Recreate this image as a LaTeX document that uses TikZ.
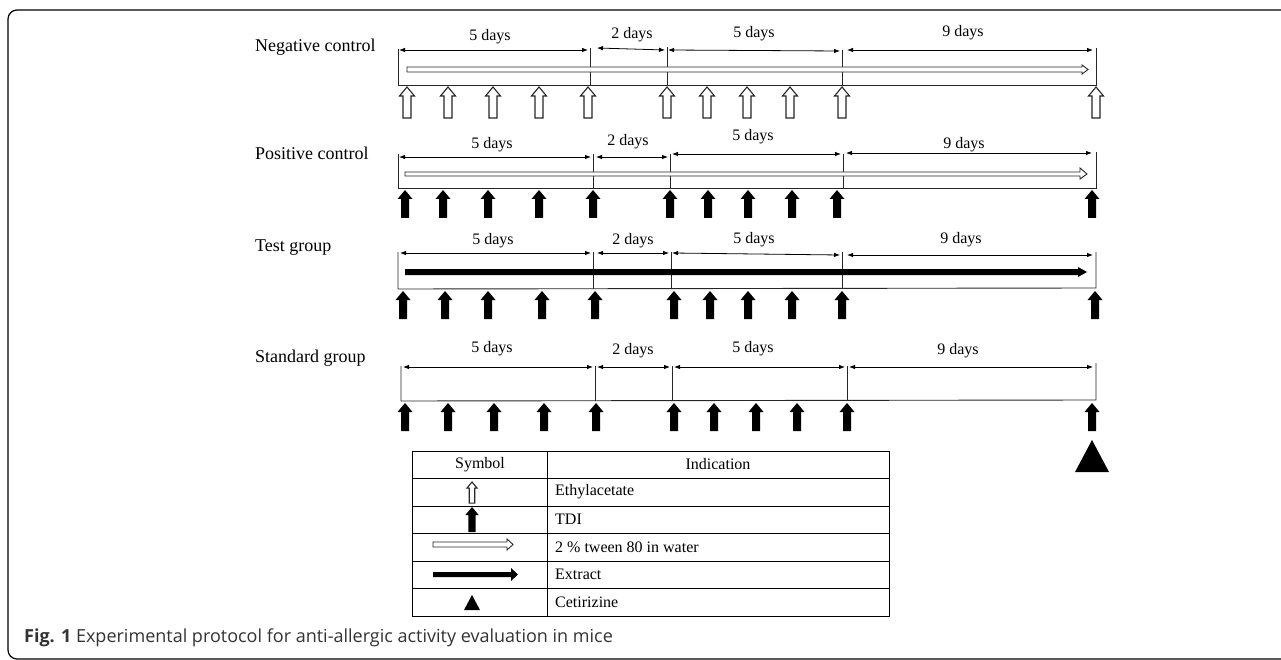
\documentclass[tikz,border=0pt]{standalone}
\usepackage{fontspec}
\setmainfont{Liberation Serif}
\newfontfamily\capfont{Open Sans}
\usetikzlibrary{arrows.meta}
\tikzset{
  tl/.style={line width=0.9pt, draw=black!85},
  dim/.style={{Latex[length=6pt,width=4.5pt]}-{Latex[length=6pt,width=4.5pt]}, line width=0.8pt},
  lab/.style={font=\fontsize{16}{18}\selectfont, inner sep=0pt},
  grp/.style={font=\fontsize{18}{21}\selectfont, anchor=west, inner sep=0pt},
  tbl/.style={line width=0.9pt},
  cell/.style={font=\fontsize{16}{18}\selectfont, inner sep=0pt},
  hollowarrow/.style={draw=black!85, fill=white, line width=1.1pt, line join=miter},
  hup/.pic={\draw[hollowarrow] (0,0) -- (7.5,9) -- (4,9) -- (4,31) -- (-4,31) -- (-4,9) -- (-7.5,9) -- cycle;},
  bup/.pic={\fill (0,0) -- (7.5,9) -- (4,9) -- (4,28) -- (-4,28) -- (-4,9) -- (-7.5,9) -- cycle;}
}
\begin{document}
\begin{tikzpicture}[x=1pt,y=-1pt]
\useasboundingbox (0,0) rectangle (1281,660);
% frame
\draw[line width=1.2pt, rounded corners=9pt] (1290,10) -- (8,10) -- (8,659) -- (1290,659);

% ---------- Row 1: Negative control ----------
\node[grp] (g1) at (255,47) {Negative control};
\coordinate (a0t) at (398,49); \coordinate (a0b) at (398,85);
\coordinate (a1t) at (590,48); \coordinate (a1b) at (590,85);
\coordinate (a2t) at (667,47); \coordinate (a2b) at (667,85);
\coordinate (a3t) at (842,50); \coordinate (a3b) at (842,85);
\coordinate (a4t) at (1096,48); \coordinate (a4b) at (1096,85);
\draw[tl] (a0t) -- (a0b) -- (a4b) -- (a4t);
\draw[tl] (a1t) -- (a1b); \draw[tl] (a2t) -- (a2b); \draw[tl] (a3t) -- (a3b);
\draw[dim] (399,50) -- (588,50);
\draw[dim] (597,48) -- (665,50);
\draw[dim] (668,50) -- (840,51);
\draw[dim] (847,50) -- (1093,50);
\node[lab] (a1l) at (490,37) {5 days};
\node[lab] (a2l) at (632,35) {2 days};
\node[lab] (a3l) at (754,34) {5 days};
\node[lab] (a4l) at (963,33) {9 days};
\draw[hollowarrow, line width=0.9pt] (407,67) -- (1082,67) -- (1082,65) -- (1088,69.5) -- (1082,74) -- (1082,72) -- (407,72) -- cycle;
\foreach \x in {407,448,493,539,588,667,707,747,790,842,1096} \pic at (\x,87) {hup};

% ---------- Row 2: Positive control ----------
\node[grp] (g2) at (255,153) {Positive control};
\coordinate (b0t) at (398,154); \coordinate (b0b) at (398,188);
\coordinate (b1t) at (593,154); \coordinate (b1b) at (593,188);
\coordinate (b2t) at (670,154); \coordinate (b2b) at (670,188);
\coordinate (b3t) at (843,154); \coordinate (b3b) at (843,188);
\coordinate (b4t) at (1096,152); \coordinate (b4b) at (1096,188);
\draw[tl] (b0t) -- (b0b) -- (b4b) -- (b4t);
\draw[tl] (b1t) -- (b1b); \draw[tl] (b2t) -- (b2b); \draw[tl] (b3t) -- (b3b);
\draw[dim] (399,157) -- (591,157);
\draw[dim] (596,157) -- (668,157);
\draw[dim] (672,154) -- (841,154);
\draw[dim] (846,153) -- (1092,153);
\node[lab] (b1l) at (492,145) {5 days};
\node[lab] (b2l) at (628,142) {2 days};
\node[lab] (b3l) at (753,137) {5 days};
\node[lab] (b4l) at (964,145) {9 days};
\draw[hollowarrow, line width=0.9pt] (405,172) -- (1080,172) -- (1080,168) -- (1087,174) -- (1080,179) -- (1080,176) -- (405,176) -- cycle;
\foreach \x in {405,443,488,539,593,670,708,748,792,837,1092} \pic at (\x,190) {bup};

% ---------- Row 3: Test group ----------
\node[grp] (g3) at (255,248) {Test group};
\coordinate (c0t) at (398,252); \coordinate (c0b) at (398,289);
\coordinate (c1t) at (593,252); \coordinate (c1b) at (593,289);
\coordinate (c2t) at (671,252); \coordinate (c2b) at (671,289);
\coordinate (c3t) at (842,252); \coordinate (c3b) at (842,289);
\coordinate (c4t) at (1096,252); \coordinate (c4b) at (1096,288);
\draw[tl] (c0t) -- (c0b) -- (c4b) -- (c4t);
\draw[tl] (c1t) -- (c1b); \draw[tl] (c2t) -- (c2b); \draw[tl] (c3t) -- (c3b);
\draw[dim] (400,253) -- (591,253);
\draw[dim] (597,253) -- (669,253);
\draw[dim] (672,253) -- (840,255);
\draw[dim] (847,255) -- (1093,255);
\node[lab] (c1l) at (493,241) {5 days};
\node[lab] (c2l) at (633,241) {2 days};
\node[lab] (c3l) at (754,240) {5 days};
\node[lab] (c4l) at (961,240) {9 days};
\fill (405,269) -- (1078,269) -- (1078,267) -- (1087,272) -- (1078,277) -- (1078,275) -- (405,275) -- cycle;
\foreach \x in {403,445,488,542,595,674,710,748,792,842,1095} \pic at (\x,291) {bup};

% ---------- Row 4: Standard group ----------
\node[grp] (g4) at (255,358) {Standard group};
\coordinate (d0t) at (401,366); \coordinate (d0b) at (401,401);
\coordinate (d1t) at (595,366); \coordinate (d1b) at (595,401);
\coordinate (d2t) at (672,366); \coordinate (d2b) at (672,401);
\coordinate (d3t) at (847,366); \coordinate (d3b) at (847,401);
\coordinate (d4t) at (1096,363); \coordinate (d4b) at (1096,400);
\draw[tl] (d0t) -- (d0b) -- (d4b) -- (d4t);
\draw[tl] (d1t) -- (d1b); \draw[tl] (d2t) -- (d2b); \draw[tl] (d3t) -- (d3b);
\draw[dim] (403,367) -- (593,367);
\draw[dim] (597,367) -- (670,367);
\draw[dim] (674,367) -- (845,367);
\draw[dim] (849,367) -- (1093,367);
\node[lab] (d1l) at (492,349) {5 days};
\node[lab] (d2l) at (633,351) {2 days};
\node[lab] (d3l) at (753,349) {5 days};
\node[lab] (d4l) at (958,351) {9 days};
\foreach \x in {405,448,494,544,596,674,714,756,797,847,1092} \pic at (\x,403) {bup};
\fill (1092,440) -- (1109,472) -- (1075,472) -- cycle;

% ---------- Legend table ----------
\draw[tbl] (412,451) rectangle (889,616);
\foreach \y in {478,506,533,561,588} \draw[tbl] (412,\y) -- (889,\y);
\draw[tbl] (547,451) -- (547,616);
\node[cell] (th1) at (480,464.5) {Symbol};
\node[cell] (th2) at (718,464.5) {Indication};
\node[cell, anchor=west] (t1) at (555,492) {Ethylacetate};
\node[cell, anchor=west] (t2) at (555,519.5) {TDI};
\node[cell, anchor=west] (t3) at (555,547) {2 \% tween 80 in water};
\node[cell, anchor=west] (t4) at (555,574.5) {Extract};
\node[cell, anchor=west] (t5) at (555,602) {Cetirizine};
\pic[scale=0.68] at (472,482) {hup};
\pic[scale=0.9] at (472,507) {bup};
\draw[hollowarrow, line width=0.9pt] (433,542) -- (507,542) -- (507,539) -- (513,544.5) -- (507,550) -- (507,547) -- (433,547) -- cycle;
\fill (433,572) -- (511,572) -- (511,568) -- (518,574.5) -- (511,581) -- (511,577) -- (433,577) -- cycle;
\fill (472,595) -- (480,610) -- (464,610) -- cycle;

% ---------- Caption ----------
\node[anchor=base west, inner sep=0pt, text=black!80, font=\capfont\fontsize{18}{21}\selectfont] (cap) at (24,642) {\textbf{Fig. 1} Experimental protocol for anti-allergic activity evaluation in mice};
\end{tikzpicture}
\end{document}
